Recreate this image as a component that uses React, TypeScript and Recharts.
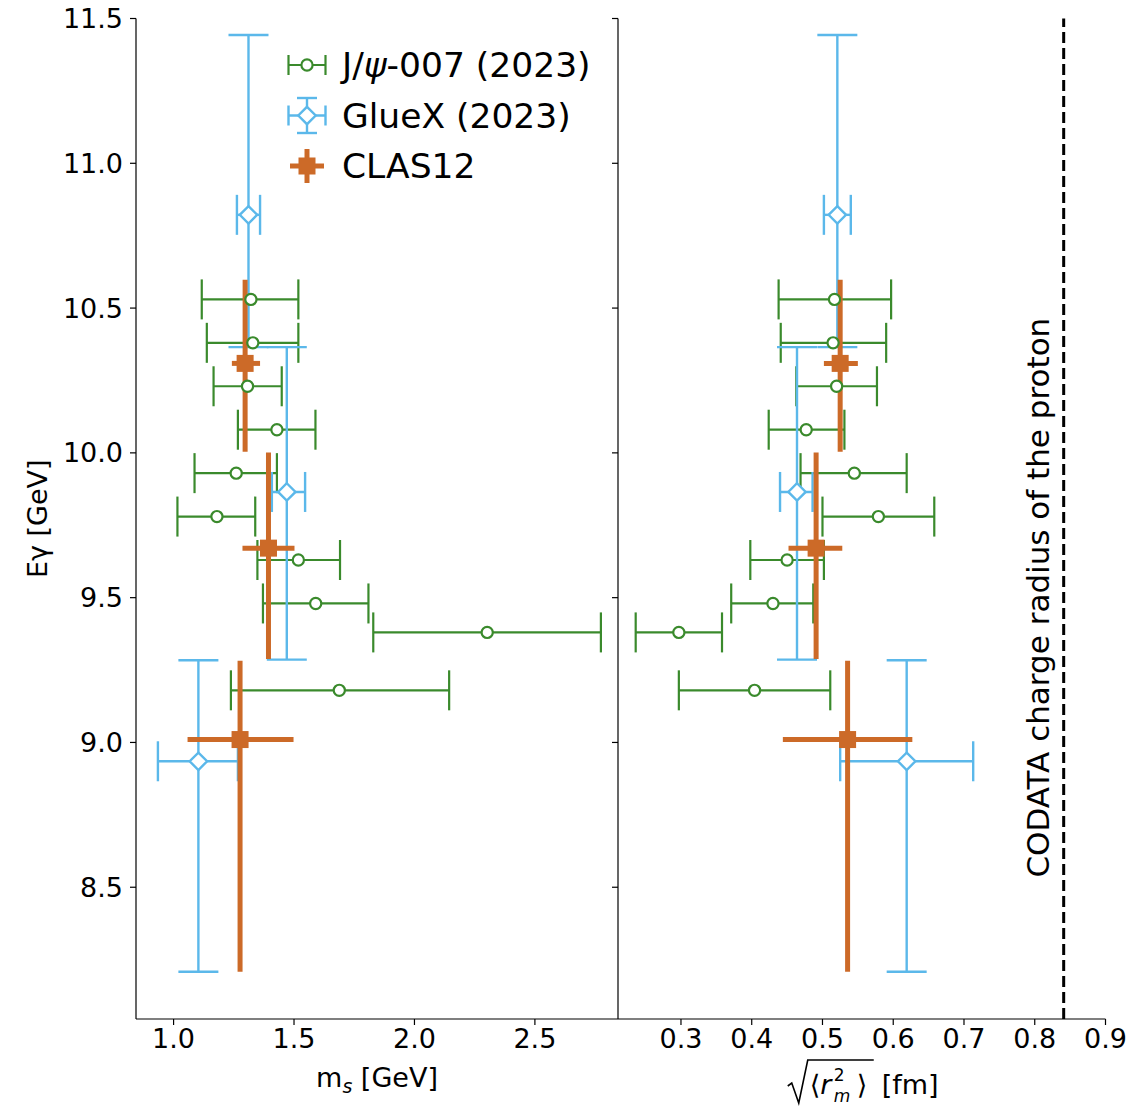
import React from "react";
import {
  ErrorBar,
  Label,
  Legend,
  ReferenceLine,
  Scatter,
  ScatterChart,
  XAxis,
  YAxis,
} from "recharts";

const FONT = "'DejaVu Sans', sans-serif";
const GREEN = "#3a8a2c";
const BLUE = "#5bb8ea";
const ORANGE = "#cc6a28";

// J/psi-007 (2023): photon energy bins, no energy error bars
const jpsiE = [9.18, 9.38, 9.48, 9.63, 9.78, 9.93, 10.08, 10.23, 10.38, 10.53];
const jpsiMs = [1.688, 2.302, 1.59, 1.518, 1.18, 1.26, 1.429, 1.307, 1.329, 1.321];
const jpsiMsLo = [1.238, 1.829, 1.371, 1.348, 1.016, 1.087, 1.267, 1.166, 1.138, 1.117];
const jpsiMsHi = [2.144, 2.774, 1.809, 1.691, 1.339, 1.429, 1.589, 1.449, 1.518, 1.518];
const jpsiR = [0.404, 0.297, 0.43, 0.45, 0.579, 0.545, 0.477, 0.52, 0.515, 0.517];
const jpsiRLo = [0.297, 0.236, 0.371, 0.398, 0.5, 0.469, 0.424, 0.463, 0.441, 0.438];
const jpsiRHi = [0.511, 0.358, 0.487, 0.502, 0.658, 0.619, 0.531, 0.577, 0.59, 0.597];

// GlueX (2023)
const gluexE = [8.935, 9.865, 10.822];
const gluexELo = [8.208, 9.286, 10.365];
const gluexEHi = [9.284, 10.365, 11.443];
const gluexMs = [1.103, 1.47, 1.311];
const gluexMsLo = [0.935, 1.408, 1.263];
const gluexMsHi = [1.267, 1.546, 1.359];
const gluexR = [0.619, 0.464, 0.521];
const gluexRLo = [0.525, 0.44, 0.502];
const gluexRHi = [0.713, 0.486, 0.54];

// CLAS12
const clasE = [9.01, 9.671, 10.309];
const clasELo = [8.208, 9.288, 10.004];
const clasEHi = [9.282, 10.001, 10.598];
const clasMs = [1.276, 1.394, 1.297];
const clasMsLo = [1.058, 1.286, 1.242];
const clasMsHi = [1.498, 1.502, 1.359];
const clasR = [0.5355, 0.491, 0.525];
const clasRLo = [0.444, 0.452, 0.502];
const clasRHi = [0.627, 0.528, 0.55];

const eTicks = [8.5, 9.0, 9.5, 10.0, 10.5, 11.0, 11.5];
const msTicks = [1.0, 1.5, 2.0, 2.5];
const rTicks = [0.3, 0.4, 0.5, 0.6, 0.7, 0.8, 0.9];
const eDomain = [8.045, 11.5];
const msDomain = [0.844, 2.845];
const rDomain = [0.211, 0.9];

const CODATA_R = 0.8409;
const CODATA_TEXT = "CODATA charge radius of the proton";
const CODATA_TEXT_E = 9.5;

const LEGEND = [
  { key: "jpsi", label: "J/ψ-007 (2023)" },
  { key: "gluex", label: "GlueX (2023)" },
  { key: "clas", label: "CLAS12" },
];

function toRows(e: number[], v: number[], lo: number[], hi: number[], eLo?: number[], eHi?: number[]) {
  return e.map((y, i) => ({
    y,
    x: v[i],
    xErr: [v[i] - lo[i], hi[i] - v[i]],
    yErr: eLo && eHi ? [y - eLo[i], eHi[i] - y] : [0, 0],
  }));
}

const jpsiLeft = toRows(jpsiE, jpsiMs, jpsiMsLo, jpsiMsHi);
const gluexLeft = toRows(gluexE, gluexMs, gluexMsLo, gluexMsHi, gluexELo, gluexEHi);
const clasLeft = toRows(clasE, clasMs, clasMsLo, clasMsHi, clasELo, clasEHi);
const jpsiRight = toRows(jpsiE, jpsiR, jpsiRLo, jpsiRHi);
const gluexRight = toRows(gluexE, gluexR, gluexRLo, gluexRHi, gluexELo, gluexEHi);
const clasRight = toRows(clasE, clasR, clasRLo, clasRHi, clasELo, clasEHi);

const circleShape = (p: any) => (
  <circle cx={p.cx} cy={p.cy} r={5.6} fill="#fff" stroke={GREEN} strokeWidth={2.2} />
);
const diamondShape = (p: any) => {
  const s = 8.7;
  return (
    <polygon
      points={`${p.cx},${p.cy - s} ${p.cx + s},${p.cy} ${p.cx},${p.cy + s} ${p.cx - s},${p.cy}`}
      fill="#fff"
      stroke={BLUE}
      strokeWidth={2.4}
    />
  );
};
const squareShape = (p: any) => (
  <rect x={p.cx - 8.5} y={p.cy - 8.5} width={17} height={17} fill={ORANGE} />
);

function renderSeries(jpsi: any[], gluex: any[], clas: any[]) {
  return [
    <Scatter key="jpsi" name="J/ψ-007 (2023)" data={jpsi} shape={circleShape} isAnimationActive={false}>
      <ErrorBar dataKey="xErr" direction="x" stroke={GREEN} strokeWidth={2.2} width={20} isAnimationActive={false} />
    </Scatter>,
    <Scatter key="gluex" name="GlueX (2023)" data={gluex} shape={diamondShape} isAnimationActive={false}>
      <ErrorBar dataKey="xErr" direction="x" stroke={BLUE} strokeWidth={2.4} width={20} isAnimationActive={false} />
      <ErrorBar dataKey="yErr" direction="y" stroke={BLUE} strokeWidth={2.4} width={20} isAnimationActive={false} />
    </Scatter>,
    <Scatter key="clas" name="CLAS12" data={clas} shape={squareShape} isAnimationActive={false}>
      <ErrorBar dataKey="xErr" direction="x" stroke={ORANGE} strokeWidth={5} width={0} isAnimationActive={false} />
      <ErrorBar dataKey="yErr" direction="y" stroke={ORANGE} strokeWidth={5} width={0} isAnimationActive={false} />
    </Scatter>,
  ];
}

const tickStyle = { fill: "#000", fontSize: 27, fontFamily: FONT };
const axisLine = { stroke: "#000", strokeWidth: 1.2 };
const tickLine = { stroke: "#000", strokeWidth: 1.2 };

function LegendBox() {
  const hx = 37;
  const rows = [30, 80.5, 131];
  return (
    <svg width={360} height={165} style={{ overflow: "visible" }}>
      {LEGEND.map((item, i) => {
        const y = rows[i];
        let handle: React.ReactNode = null;
        if (item.key === "jpsi") {
          handle = (
            <g stroke={GREEN} strokeWidth={2.2}>
              <line x1={hx - 18.5} x2={hx + 18.5} y1={y} y2={y} />
              <line x1={hx - 18.5} x2={hx - 18.5} y1={y - 10} y2={y + 10} />
              <line x1={hx + 18.5} x2={hx + 18.5} y1={y - 10} y2={y + 10} />
              <circle cx={hx} cy={y} r={5.6} fill="#fff" />
            </g>
          );
        } else if (item.key === "gluex") {
          handle = (
            <g stroke={BLUE} strokeWidth={2.4}>
              <line x1={hx - 18.5} x2={hx + 18.5} y1={y} y2={y} />
              <line x1={hx - 18.5} x2={hx - 18.5} y1={y - 10} y2={y + 10} />
              <line x1={hx + 18.5} x2={hx + 18.5} y1={y - 10} y2={y + 10} />
              <line x1={hx} x2={hx} y1={y - 17.5} y2={y + 17.5} />
              <line x1={hx - 10} x2={hx + 10} y1={y - 17.5} y2={y - 17.5} />
              <line x1={hx - 10} x2={hx + 10} y1={y + 17.5} y2={y + 17.5} />
              <polygon
                points={`${hx},${y - 8.7} ${hx + 8.7},${y} ${hx},${y + 8.7} ${hx - 8.7},${y}`}
                fill="#fff"
              />
            </g>
          );
        } else {
          handle = (
            <g stroke={ORANGE} strokeWidth={5}>
              <line x1={hx - 17} x2={hx + 17} y1={y} y2={y} />
              <line x1={hx} x2={hx} y1={y - 17} y2={y + 17} />
              <rect x={hx - 8.5} y={y - 8.5} width={17} height={17} fill={ORANGE} stroke="none" />
            </g>
          );
        }
        return (
          <g key={item.key}>
            {handle}
            <text x={72} y={y} dominantBaseline="central" fontSize={34.5} fontFamily={FONT} fill="#000">
              {item.key === "jpsi" ? (
                <>
                  J/<tspan fontStyle="italic">ψ</tspan>-007 (2023)
                </>
              ) : (
                item.label
              )}
            </text>
          </g>
        );
      })}
    </svg>
  );
}

function MsLabel(props: any) {
  const vb = props.viewBox;
  const cx = vb.x + vb.width / 2;
  const y = vb.y + 68;
  return (
    <text x={cx} y={y} textAnchor="middle" fontSize={27} fontFamily={FONT} fill="#000">
      m
      <tspan dy={6} fontSize={19} fontStyle="italic">
        s
      </tspan>
      <tspan dy={-6}> [GeV]</tspan>
    </text>
  );
}

function RLabel(props: any) {
  const vb = props.viewBox;
  const x0 = vb.x + vb.width / 2 - 74;
  const yb = vb.y + 75;
  const top = yb - 34;
  return (
    <g fontFamily={FONT} fill="#000">
      <path
        d={`M${x0},${yb - 8} L${x0 + 4},${yb - 11} L${x0 + 11},${yb + 9} L${x0 + 20},${top} L${x0 + 86},${top}`}
        fill="none"
        stroke="#000"
        strokeWidth={1.6}
      />
      <text x={x0 + 22} y={yb} fontSize={27}>
        ⟨<tspan fontStyle="italic">r</tspan>
      </text>
      {/* stacked super- and subscript: r_m^2 */}
      <text x={x0 + 46} y={yb - 13} fontSize={17}>
        2
      </text>
      <text x={x0 + 46} y={yb + 8} fontSize={17} fontStyle="italic">
        m
      </text>
      <text x={x0 + 69} y={yb} fontSize={27}>
        ⟩
      </text>
      <text x={x0 + 94} y={yb} fontSize={27}>
        [fm]
      </text>
    </g>
  );
}

function ELabel(props: any) {
  const vb = props.viewBox;
  const cx = vb.x + 37;
  const cy = vb.y + vb.height / 2;
  return (
    <text
      x={cx}
      y={cy}
      transform={`rotate(-90 ${cx} ${cy})`}
      textAnchor="middle"
      dominantBaseline="central"
      fontSize={27}
      fontFamily={FONT}
      fill="#000"
    >
      Eγ [GeV]
    </text>
  );
}

function CodataLabel(props: any) {
  const vb = props.viewBox;
  const tx = vb.x - 15;
  const ty = vb.y + ((eDomain[1] - CODATA_TEXT_E) / (eDomain[1] - eDomain[0])) * vb.height;
  return (
    <text
      x={tx}
      y={ty}
      transform={`rotate(-90 ${tx} ${ty})`}
      textAnchor="middle"
      fontSize={31}
      fontFamily={FONT}
      fill="#000"
    >
      {CODATA_TEXT}
    </text>
  );
}

const fmt = (v: number) => v.toFixed(1);

export default function App() {
  return (
    <div style={{ position: "absolute", left: 0, top: 0, width: 1133, height: 1109, background: "#fff", fontFamily: FONT }}>
      <div style={{ position: "absolute", left: 0, top: 0 }}>
        <ScatterChart width={620} height={1109} margin={{ top: 18.5, right: 2, bottom: 0, left: 0 }}>
          <XAxis
            type="number"
            dataKey="x"
            domain={msDomain}
            ticks={msTicks}
            allowDataOverflow
            tickFormatter={fmt}
            height={90}
            tick={tickStyle}
            tickSize={6}
            tickMargin={4}
            axisLine={axisLine}
            tickLine={tickLine}
          >
            <Label content={MsLabel} />
          </XAxis>
          <YAxis
            type="number"
            dataKey="y"
            domain={eDomain}
            ticks={eTicks}
            allowDataOverflow
            tickFormatter={fmt}
            width={136}
            tick={tickStyle}
            tickSize={6}
            tickMargin={7}
            axisLine={axisLine}
            tickLine={tickLine}
          >
            <Label content={ELabel} />
          </YAxis>
          {renderSeries(jpsiLeft, gluexLeft, clasLeft)}
          <Legend
            layout="vertical"
            align="center"
            verticalAlign="middle"
            content={() => <LegendBox />}
            wrapperStyle={{ left: 270, top: 35, width: 360, height: 165 }}
          />
        </ScatterChart>
      </div>
      <div style={{ position: "absolute", left: 560, top: 0 }}>
        <ScatterChart width={573} height={1109} margin={{ top: 18.5, right: 27.5, bottom: 0, left: 0 }}>
          <XAxis
            type="number"
            dataKey="x"
            domain={rDomain}
            ticks={rTicks}
            allowDataOverflow
            tickFormatter={fmt}
            height={90}
            tick={tickStyle}
            tickSize={6}
            tickMargin={4}
            axisLine={axisLine}
            tickLine={tickLine}
          >
            <Label content={RLabel} />
          </XAxis>
          <YAxis
            type="number"
            dataKey="y"
            domain={eDomain}
            ticks={eTicks}
            allowDataOverflow
            tickFormatter={() => ""}
            width={58}
            tick={tickStyle}
            tickSize={6}
            axisLine={axisLine}
            tickLine={tickLine}
          />
          <ReferenceLine
            x={CODATA_R}
            stroke="#000"
            strokeWidth={3}
            strokeDasharray="11 5"
            label={<CodataLabel />}
          />
          {renderSeries(jpsiRight, gluexRight, clasRight)}
        </ScatterChart>
      </div>
    </div>
  );
}
